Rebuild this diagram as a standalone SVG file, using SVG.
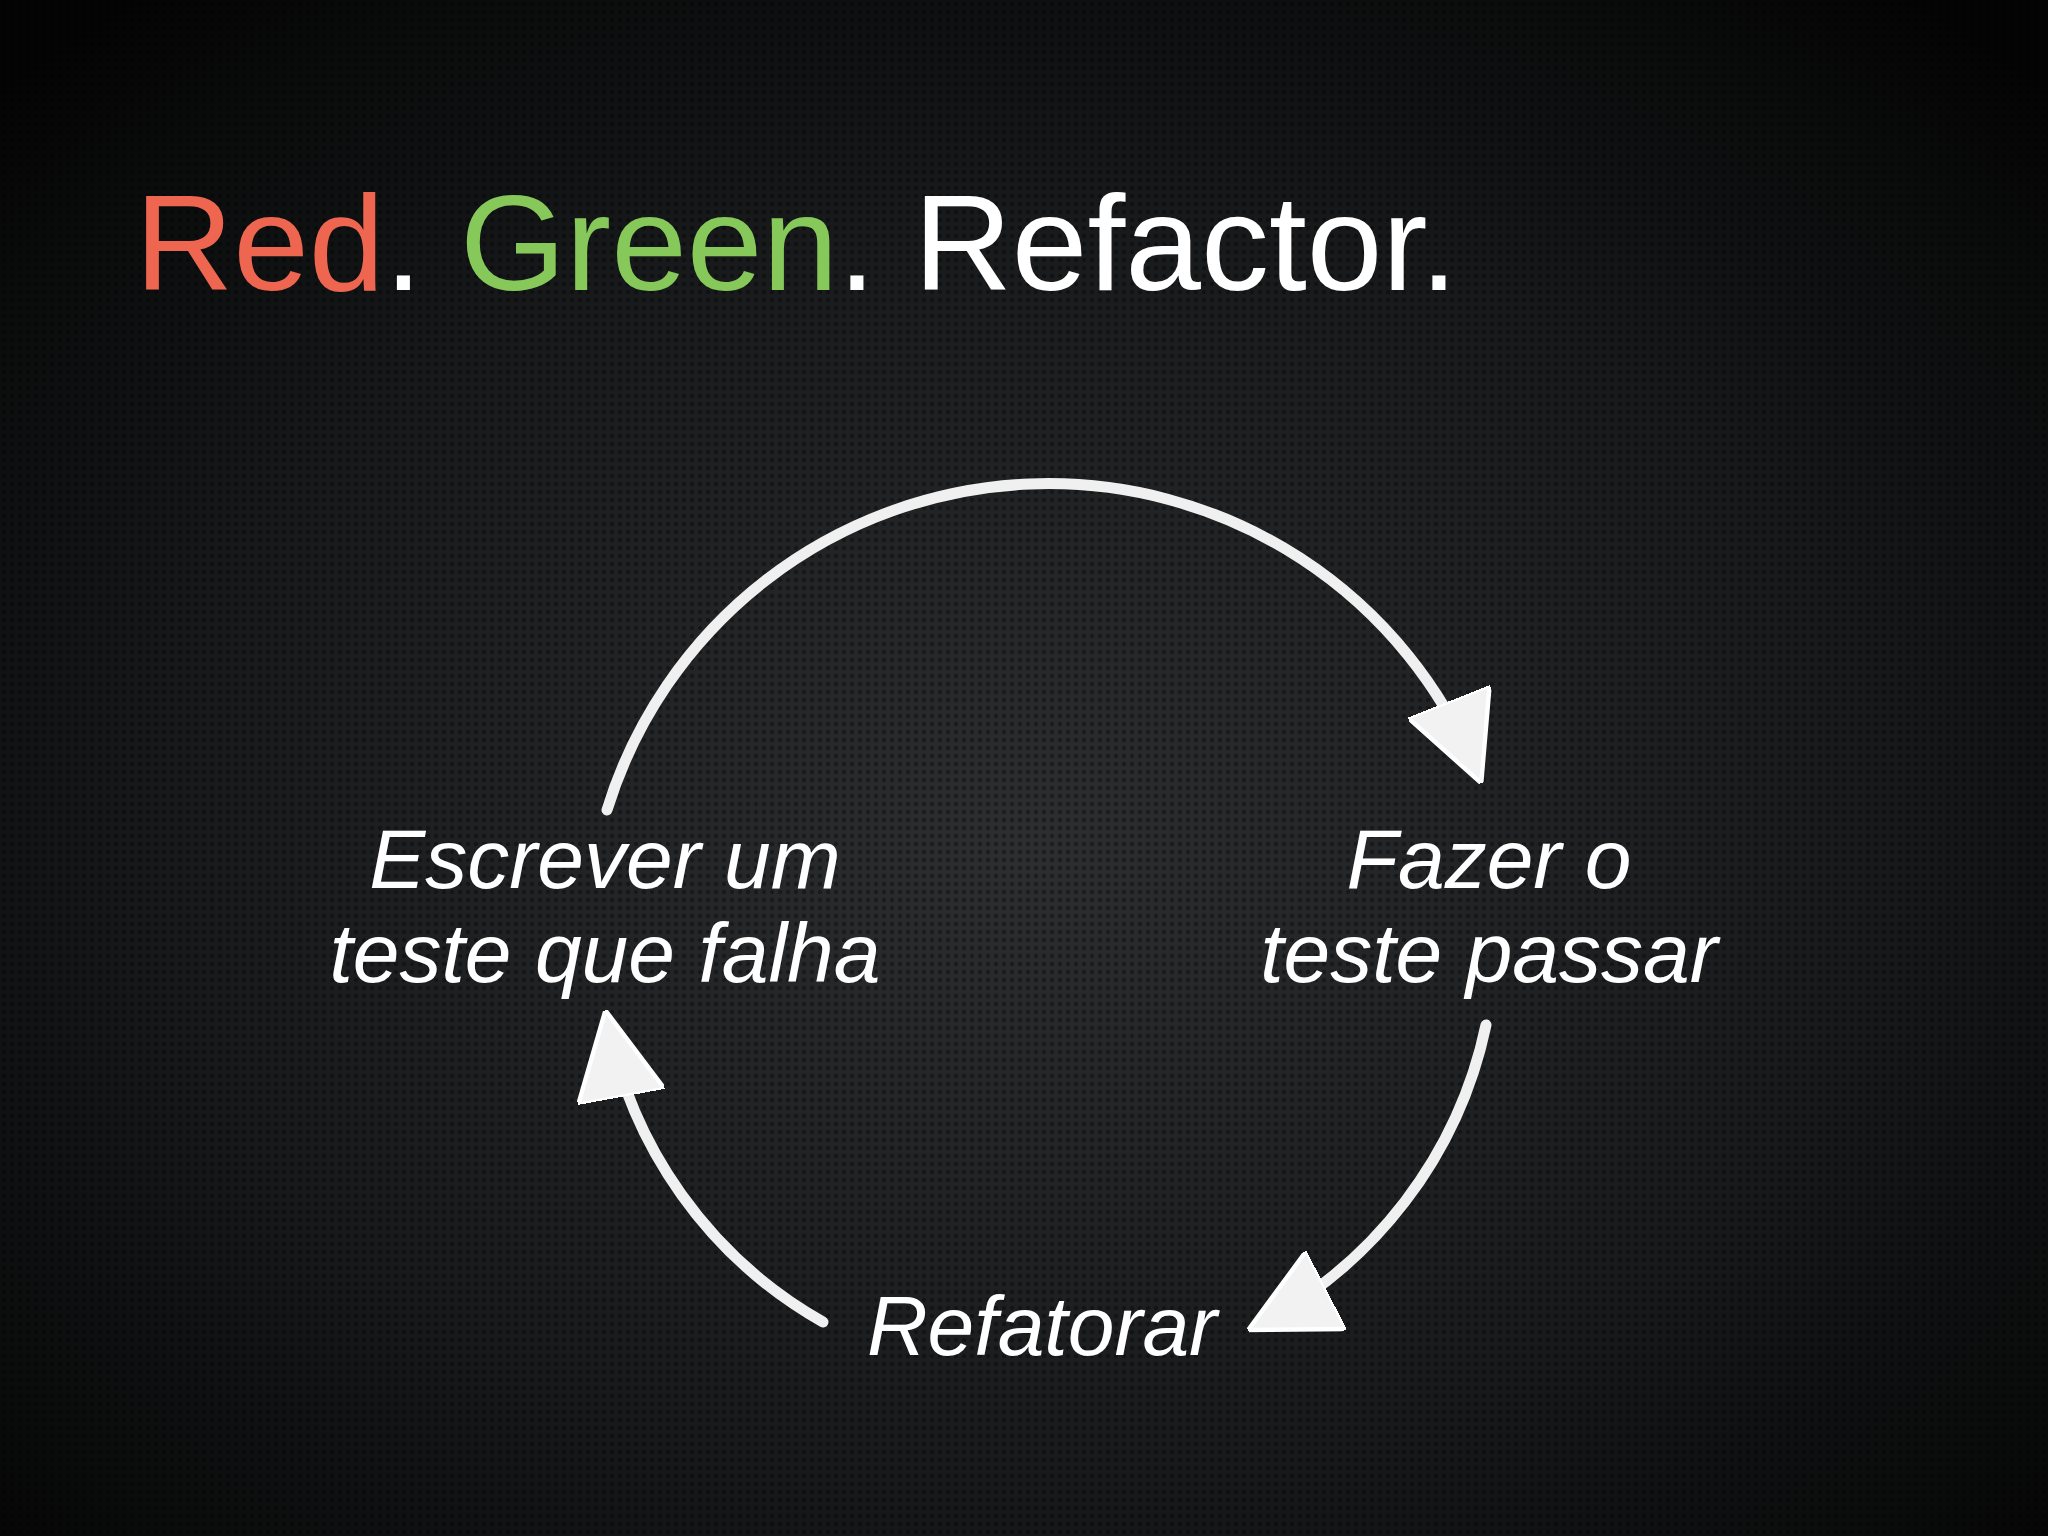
<svg xmlns="http://www.w3.org/2000/svg" width="2048" height="1536" viewBox="0 0 2048 1536">
<defs>
<radialGradient id="bg" cx="50%" cy="55%" r="70%">
<stop offset="0" stop-color="#2c2e30"/><stop offset="0.6" stop-color="#17191a"/><stop offset="1" stop-color="#040404"/>
</radialGradient>
<pattern id="dots" width="8" height="8" patternUnits="userSpaceOnUse">
<circle cx="4" cy="4" r="2.2" fill="#000" opacity="0.35"/>
</pattern>
<marker id="ah" viewBox="0 0 20 20" refX="18" refY="10" markerWidth="8" markerHeight="8" orient="auto" markerUnits="strokeWidth">
<path d="M0 0 L20 10 L0 20 Z" fill="#f2f2f2" stroke="#fff" stroke-width="1"/>
</marker>
<style>
.lbl{font-family:"Liberation Sans",sans-serif;font-style:italic;font-size:84px;fill:#fff;text-anchor:middle}
.arc{fill:none;stroke:#f0f0f0;stroke-width:11;stroke-linecap:round}
</style>
</defs>
<rect width="2048" height="1536" fill="url(#bg)"/>
<rect width="2048" height="1536" fill="url(#dots)"/>
<text x="135" y="290" font-family="Liberation Sans, sans-serif" font-size="136" fill="#fff"><tspan fill="#ef6650">Red</tspan>. <tspan fill="#86c95a">Green</tspan>. Refactor.</text>
<g id="connectors">
<path class="arc" d="M607 810 A462 462 0 0 1 1478 775" marker-end="url(#ah)"/>
<path class="arc" d="M1486 1025 A440 440 0 0 1 1256 1326" marker-end="url(#ah)"/>
<path class="arc" d="M823 1322 A440 440 0 0 1 607 1019" marker-end="url(#ah)"/>
</g>
<g id="n1"><text class="lbl" x="605" y="888">Escrever um</text><text class="lbl" x="605" y="982">teste que falha</text></g>
<g id="n2"><text class="lbl" x="1489" y="888">Fazer o</text><text class="lbl" x="1489" y="982">teste passar</text></g>
<g id="n3"><text class="lbl" x="1042" y="1355">Refatorar</text></g>
</svg>
